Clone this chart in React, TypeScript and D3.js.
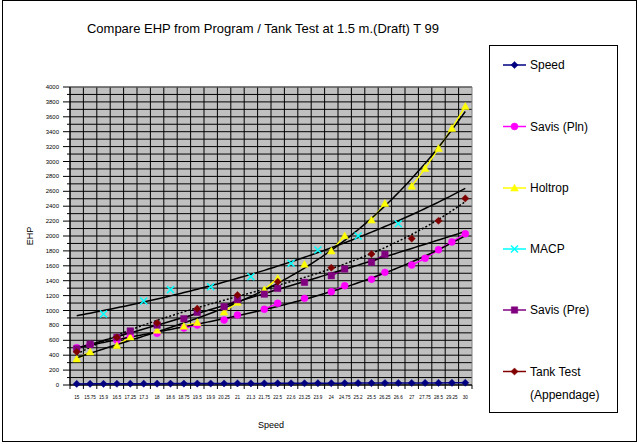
import React from "react";
import * as d3 from "d3";

const categories = ["15","15.75","15.9","16.5","17.25","17.3","18","18.6","18.75","19.5","19.9","20.25","21","21.3","21.75","22.5","22.6","23.25","23.9","24","24.75","25.2","25.5","26.25","26.6","27","27.75","28.5","29.25","30"];

const speedValues = [15,15.75,15.9,16.5,17.25,17.3,18,18.6,18.75,19.5,19.9,20.25,21,21.3,21.75,22.5,22.6,23.25,23.9,24,24.75,25.2,25.5,26.25,26.6,27,27.75,28.5,29.25,30];
const savisPlnValues = [500,545,null,600,655,null,694,null,765,805,null,872,939,null,1016,1096,null,1163,null,1252,1333,null,1418,1512,null,1610,1700,1815,1920,2030];
const holtropValues = [350,445,null,530,645,null,735,null,790,840,null,980,1110,null,1280,1432,null,1620,null,1800,2004,null,2214,2438,null,2670,2908,3176,3445,3740];
const macpValues = [null,null,953,null,null,1127,null,1280,null,null,1320,null,null,1453,null,null,1633,null,1812,null,null,2000,null,null,2165,null,null,null,null,null];
const savisPreValues = [485,546,null,640,725,null,805,null,890,975,null,1051,1145,null,1220,1297,null,1378,null,1467,1557,null,1647,1754,null,null,null,null,null,null];
const tankTestValues = [445,null,null,640,null,null,832,null,null,1025,null,null,1208,null,null,1386,null,null,null,1574,null,null,1758,null,null,1965,null,2205,null,2505];

const yTicks = [0,200,400,600,800,1000,1200,1400,1600,1800,2000,2200,2400,2600,2800,3000,3200,3400,3600,3800,4000];

type Series = { name: string[]; values: (number | null)[]; color: string; marker: string; trend: string | null; dashed?: boolean };

const series: Series[] = [
  { name: ["Speed"], values: speedValues, color: "#000080", marker: "diamond", trend: null },
  { name: ["Savis (Pln)"], values: savisPlnValues, color: "#FF00FF", marker: "circle", trend: "poly3" },
  { name: ["Holtrop"], values: holtropValues, color: "#FFFF00", marker: "triangle", trend: "poly3" },
  { name: ["MACP"], values: macpValues, color: "#00FFFF", marker: "x", trend: "exp" },
  { name: ["Savis (Pre)"], values: savisPreValues, color: "#800080", marker: "square", trend: "poly2" },
  { name: ["Tank Test", "(Appendage)"], values: tankTestValues, color: "#800000", marker: "diamond", trend: "poly3", dashed: true },
];

function solve(A: number[][], b: number[]): number[] {
  const n = b.length;
  const M = A.map((r, i) => [...r, b[i]]);
  for (let i = 0; i < n; i++) {
    let p = i;
    for (let k = i + 1; k < n; k++) if (Math.abs(M[k][i]) > Math.abs(M[p][i])) p = k;
    [M[i], M[p]] = [M[p], M[i]];
    for (let k = i + 1; k < n; k++) {
      const f = M[k][i] / M[i][i];
      for (let j = i; j <= n; j++) M[k][j] -= f * M[i][j];
    }
  }
  const x = new Array(n).fill(0);
  for (let i = n - 1; i >= 0; i--) {
    let s = M[i][n];
    for (let j = i + 1; j < n; j++) s -= M[i][j] * x[j];
    x[i] = s / M[i][i];
  }
  return x;
}

function polyFit(xs: number[], ys: number[], deg: number) {
  const n = deg + 1;
  const A = Array.from({ length: n }, () => new Array(n).fill(0));
  const b = new Array(n).fill(0);
  xs.forEach((x, k) => {
    for (let i = 0; i < n; i++) {
      for (let j = 0; j < n; j++) A[i][j] += Math.pow(x, i + j);
      b[i] += Math.pow(x, i) * ys[k];
    }
  });
  const c = solve(A, b);
  return (x: number) => c.reduce((s, ci, i) => s + ci * Math.pow(x, i), 0);
}

function trendFn(values: (number | null)[], type: string) {
  const xs: number[] = [];
  const ys: number[] = [];
  values.forEach((v, i) => { if (v != null) { xs.push(i + 1); ys.push(v); } });
  if (type === "linear") return polyFit(xs, ys, 1);
  if (type === "poly2") return polyFit(xs, ys, 2);
  if (type === "poly3") return polyFit(xs, ys, 3);
  const f = polyFit(xs, ys.map(Math.log), 1);
  return (x: number) => Math.exp(f(x));
}

function Marker({ type, x, y, color }: { type: string; x: number; y: number; color: string }) {
  if (type === "x") {
    const s = 3.5;
    return <path d={`M${x - s},${y - s}L${x + s},${y + s}M${x - s},${y + s}L${x + s},${y - s}`} stroke={color} strokeWidth={1.5} fill="none" />;
  }
  if (type === "diamond") {
    const s = 3.6;
    return <path d={`M${x},${y - s}L${x + s},${y}L${x},${y + s}L${x - s},${y}Z`} fill={color} stroke={color} strokeWidth={0.5} />;
  }
  if (type === "triangle") {
    const s = 3.8;
    return <path d={`M${x},${y - s}L${x + s},${y + s * 0.8}L${x - s},${y + s * 0.8}Z`} fill={color} stroke={color} strokeWidth={0.5} />;
  }
  const sym = type === "circle" ? d3.symbolCircle : d3.symbolSquare;
  const size = type === "circle" ? 38 : 42;
  const d = d3.symbol().type(sym).size(size)() as string;
  return <path d={d} transform={`translate(${x},${y})`} fill={color} stroke={color} strokeWidth={0.5} />;
}

export default function App() {
  const W = 639, H = 444;
  const left = 70, right = 472, top = 87, bottom = 385;
  const x = d3.scaleBand().domain(categories).range([left, right]).padding(0);
  const cx = (i: number) => (x(categories[i]) as number) + x.bandwidth() / 2;
  const y = d3.scaleLinear().domain([0, 4000]).range([bottom, top]);
  const minor = d3.range(0, 4001, 100);
  const font = "'Liberation Sans', Arial, sans-serif";

  const legendX = 489, legendY = 45, legendW = 128, legendH = 367;
  const legendRows = [65, 126.5, 188, 249, 310, 371.5];

  return (
    <svg width={W} height={H} style={{ position: "absolute", left: 0, top: 0, background: "#fff" }} fontFamily={font}>
      <rect x={2.5} y={0.5} width={634} height={441} fill="#fff" stroke="#000" strokeWidth={1} />
      <text x={263} y={33} fontSize={13} textAnchor="middle" fill="#000">Compare EHP from Program / Tank Test at 1.5 m.(Draft) T 99</text>

      {/* plot area */}
      <rect x={left} y={top} width={right - left} height={bottom - top} fill="#C0C0C0" />
      {minor.map((v) => (
        <line key={"h" + v} x1={left} x2={right} y1={y(v)} y2={y(v)} stroke="#000" strokeWidth={1} />
      ))}
      {categories.map((c, i) => (
        <line key={"v" + i} x1={x(c) as number} x2={x(c) as number} y1={top} y2={bottom} stroke="#000" strokeWidth={1} />
      ))}
      <line x1={right} x2={right} y1={top} y2={bottom} stroke="#808080" strokeWidth={1} />
      <line x1={left} x2={right} y1={top} y2={top} stroke="#808080" strokeWidth={1} />
      <line x1={left} x2={left} y1={top} y2={bottom + 4} stroke="#000" strokeWidth={1} />
      <line x1={left} x2={right} y1={bottom} y2={bottom} stroke="#000" strokeWidth={1} />

      {/* y axis */}
      {yTicks.map((v) => (
        <g key={"yt" + v}>
          <line x1={left - 7} x2={left} y1={y(v)} y2={y(v)} stroke="#000" />
          <text x={left - 11} y={y(v) + 2} fontSize={6} textAnchor="end" fill="#000">{v}</text>
        </g>
      ))}
      {minor.filter((v) => v % 200 !== 0).map((v) => (
        <line key={"ym" + v} x1={left - 3} x2={left} y1={y(v)} y2={y(v)} stroke="#000" />
      ))}
      <text transform={`translate(33,236) rotate(-90)`} fontSize={9} textAnchor="middle" fill="#000">EHP</text>

      {/* x axis */}
      {categories.map((c, i) => (
        <g key={"xt" + i}>
          <line x1={(x(c) as number) + x.bandwidth()} x2={(x(c) as number) + x.bandwidth()} y1={bottom} y2={bottom + 4} stroke="#000" />
          <text x={cx(i)} y={399} fontSize={4.6} textAnchor="middle" fill="#000">{c}</text>
        </g>
      ))}
      <text x={271} y={428} fontSize={9} textAnchor="middle" fill="#000">Speed</text>

      {/* series lines (segments between consecutive categories) */}
      {series.map((s, si) => {
        const line = d3.line<number | null>()
          .defined((v) => v != null)
          .x((_, i) => cx(i))
          .y((v) => y(v as number));
        return <path key={"l" + si} d={line(s.values) as string} fill="none" stroke={s.color} strokeWidth={1.5} />;
      })}

      {/* trend lines */}
      {series.filter((s) => s.trend).map((s, si) => {
        const f = trendFn(s.values, s.trend as string);
        const pts = d3.range(1, 30.001, 0.25).map((t) => [cx(0) + (t - 1) * x.bandwidth(), y(f(t))] as [number, number]);
        return <path key={"t" + si} d={d3.line()(pts) as string} fill="none" stroke="#000" strokeWidth={1.5} strokeDasharray={s.dashed ? "2,2" : undefined} />;
      })}

      {/* markers */}
      {series.map((s, si) => (
        <g key={"m" + si}>
          {s.values.map((v, i) => v == null ? null : <Marker key={i} type={s.marker} x={cx(i)} y={y(v)} color={s.color} />)}
        </g>
      ))}

      {/* legend */}
      <rect x={legendX + 0.5} y={legendY + 0.5} width={legendW} height={legendH} fill="#fff" stroke="#000" strokeWidth={1} />
      {series.map((s, si) => (
        <g key={"lg" + si}>
          <line x1={503} x2={526} y1={legendRows[si]} y2={legendRows[si]} stroke={s.color} strokeWidth={1.5} />
          <Marker type={s.marker} x={514.5} y={legendRows[si]} color={s.color} />
          {s.name.map((n, k) => (
            <text key={k} x={530} y={legendRows[si] + 4 + k * 23.5} fontSize={12} fill="#000">{n}</text>
          ))}
        </g>
      ))}
    </svg>
  );
}
